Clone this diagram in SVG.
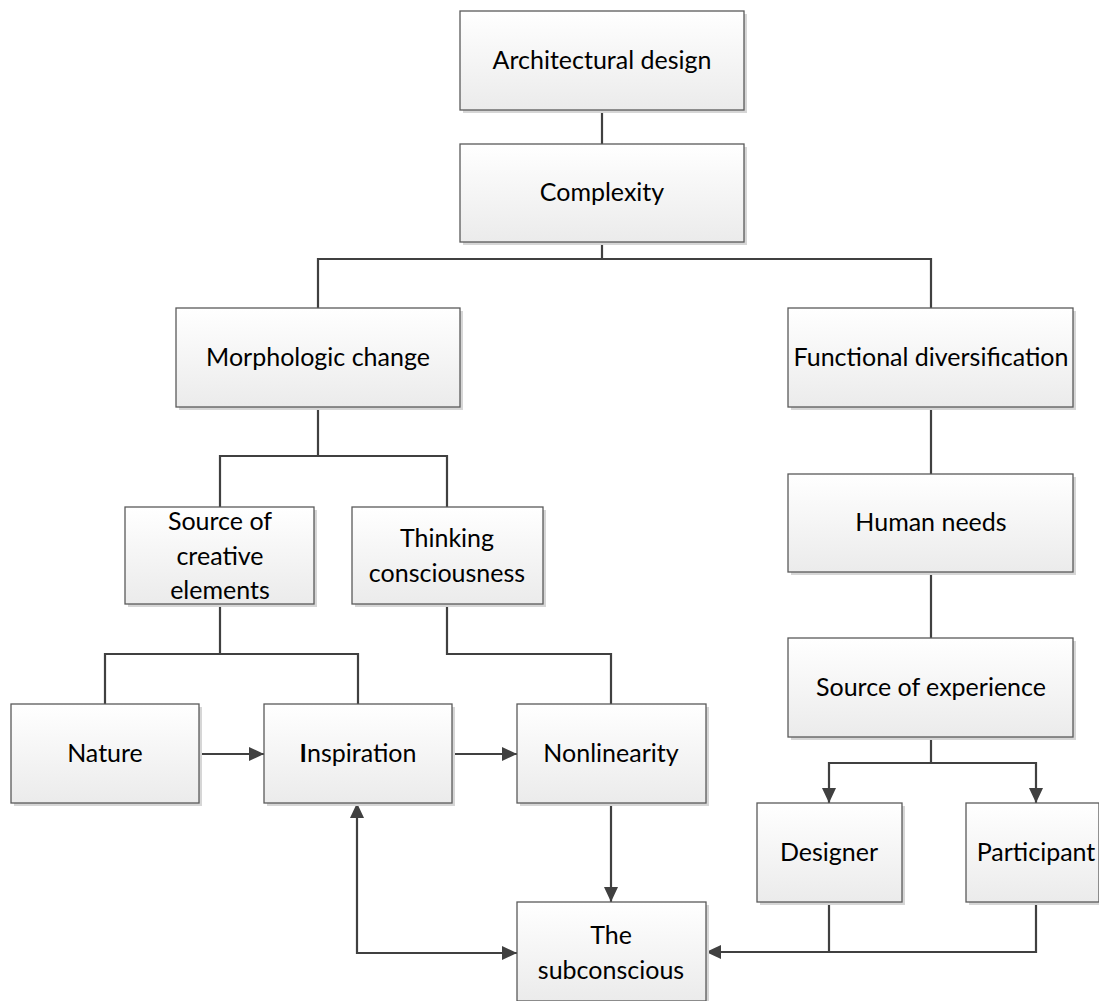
<svg xmlns="http://www.w3.org/2000/svg" width="1099" height="1001" viewBox="0 0 1099 1001">
<defs>
<linearGradient id="g" x1="0" y1="0" x2="0" y2="1">
<stop offset="0" stop-color="#ffffff"/>
<stop offset="1" stop-color="#ebebeb"/>
</linearGradient>
<marker id="a" viewBox="0 0 15 14" refX="15" refY="7" markerWidth="15" markerHeight="14" markerUnits="userSpaceOnUse" orient="auto-start-reverse">
<path d="M0,0 L15,7 L0,14 Z" fill="#404040"/>
</marker>
</defs>
<style>
.sh{fill:#d6d6d6}
.bx{fill:url(#g);stroke:#5a5a5a;stroke-width:1.3}
.t{font-family:Lato,"Liberation Sans",sans-serif;font-size:25px;fill:#000;text-anchor:middle}
.c{fill:none;stroke:#404040;stroke-width:2.2}
</style>
<rect width="1099" height="1001" fill="#fff"/>
<g id="connectors">
<path class="c" d="M602,110 V144"/>
<path class="c" d="M602,242 V259 M318,308 V259 H931 V308"/>
<path class="c" d="M318,407 V456 M220,507 V456 H447 V507"/>
<path class="c" d="M220,604 V654 M105,704 V654 H358 V704"/>
<path class="c" d="M447,604 V654 H611 V704"/>
<path class="c" d="M199,754 H264" marker-end="url(#a)"/>
<path class="c" d="M452,754 H517" marker-end="url(#a)"/>
<path class="c" d="M611,803 V902" marker-end="url(#a)"/>
<path class="c" d="M357,803 V953 H517" marker-start="url(#a)" marker-end="url(#a)"/>
<path class="c" d="M931,407 V474 M931,572 V638"/>
<path class="c" d="M931,737 V763 H829 V803" marker-end="url(#a)"/>
<path class="c" d="M931,763 H1036 V803" marker-end="url(#a)"/>
<path class="c" d="M829,902 V952 M1036,902 V952 H706" marker-end="url(#a)"/>
</g>
<g id="n1"><rect class="sh" x="463" y="14" width="284" height="99"/><rect class="bx" x="460" y="11" width="284" height="99"/><text class="t" x="602" y="69">Architectural design</text></g>
<g id="n2"><rect class="sh" x="463" y="147" width="284" height="98"/><rect class="bx" x="460" y="144" width="284" height="98"/><text class="t" x="602" y="201">Complexity</text></g>
<g id="n3"><rect class="sh" x="179" y="311" width="284" height="99"/><rect class="bx" x="176" y="308" width="284" height="99"/><text class="t" x="318" y="366">Morphologic change</text></g>
<g id="n4"><rect class="sh" x="791" y="311" width="285" height="99"/><rect class="bx" x="788" y="308" width="285" height="99"/><text class="t" x="931" y="366">Functional diversification</text></g>
<g id="n5"><rect class="sh" x="128" y="510" width="189" height="97"/><rect class="bx" x="125" y="507" width="189" height="97"/><text class="t" x="220" y="530">Source of</text><text class="t" x="220" y="565">creative</text><text class="t" x="220" y="599">elements</text></g>
<g id="n6"><rect class="sh" x="355" y="510" width="191" height="97"/><rect class="bx" x="352" y="507" width="191" height="97"/><text class="t" x="447" y="547">Thinking</text><text class="t" x="447" y="582">consciousness</text></g>
<g id="n7"><rect class="sh" x="791" y="477" width="285" height="98"/><rect class="bx" x="788" y="474" width="285" height="98"/><text class="t" x="931" y="531">Human needs</text></g>
<g id="n8"><rect class="sh" x="791" y="641" width="285" height="99"/><rect class="bx" x="788" y="638" width="285" height="99"/><text class="t" x="931" y="696">Source of experience</text></g>
<g id="n9"><rect class="sh" x="14" y="707" width="188" height="99"/><rect class="bx" x="11" y="704" width="188" height="99"/><text class="t" x="105" y="762">Nature</text></g>
<g id="n10"><rect class="sh" x="267" y="707" width="188" height="99"/><rect class="bx" x="264" y="704" width="188" height="99"/><text class="t" x="358" y="762"><tspan font-weight="bold">I</tspan>nspiration</text></g>
<g id="n11"><rect class="sh" x="520" y="707" width="189" height="99"/><rect class="bx" x="517" y="704" width="189" height="99"/><text class="t" x="611" y="762">Nonlinearity</text></g>
<g id="n12"><rect class="sh" x="760" y="806" width="145" height="99"/><rect class="bx" x="757" y="803" width="145" height="99"/><text class="t" x="829" y="861">Designer</text></g>
<g id="n13"><rect class="sh" x="969" y="806" width="133" height="99"/><rect class="bx" x="966" y="803" width="133" height="99"/><text class="t" x="1036" y="861">Participant</text></g>
<g id="n14"><rect class="sh" x="520" y="905" width="189" height="99"/><rect class="bx" x="517" y="902" width="189" height="99"/><text class="t" x="611" y="944">The</text><text class="t" x="611" y="979">subconscious</text></g>
</svg>
